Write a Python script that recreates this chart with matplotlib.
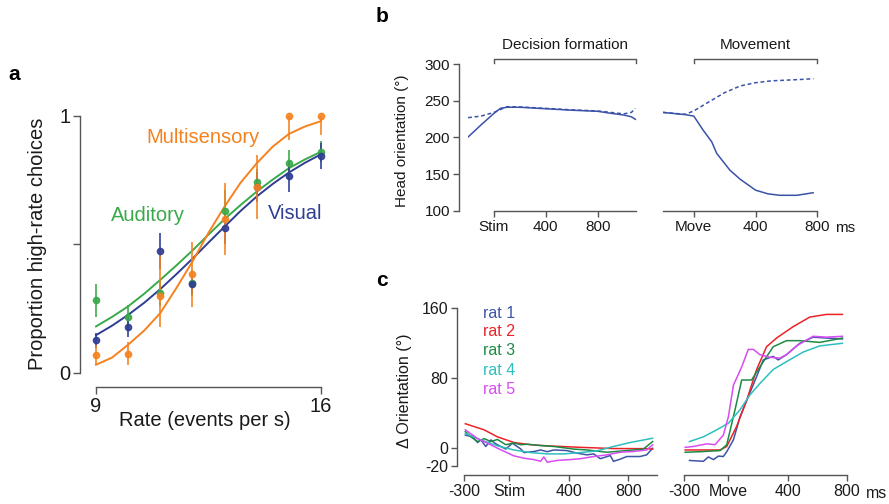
import matplotlib
matplotlib.use("Agg")
import matplotlib.pyplot as plt
import matplotlib.transforms as mtransforms

plt.rcParams['font.family'] = ['Liberation Sans', 'DejaVu Sans']
plt.rcParams['axes.unicode_minus'] = False

# ---------------- Panel a data ----------------
rate = [9, 10, 11, 12, 13, 14, 15, 16]
aud_pts = [0.282, 0.216, 0.31, 0.35, 0.63, 0.744, 0.816, 0.86]
aud_err = [0.065, 0.05, 0.05, 0.05, 0.08, 0.05, 0.05, 0.04]
vis_pts = [0.127, 0.178, 0.476, 0.347, 0.563, 0.723, 0.765, 0.842]
vis_err = [0.03, 0.04, 0.07, 0.04, 0.06, 0.06, 0.06, 0.05]
multi_pts = [0.07, 0.075, 0.298, 0.383, 0.599, 0.723, 1.0, 1.0]
multi_err_lo = [0.04, 0.045, 0.12, 0.126, 0.14, 0.126, 0.094, 0.075]
multi_err_hi = [0.04, 0.045, 0.18, 0.126, 0.14, 0.126, 0.0, 0.0]

fit_x = [9, 9.5, 10, 10.5, 11, 11.5, 12, 12.5, 13, 13.5, 14, 14.5, 15, 15.5, 16]
aud_fit = [0.181, 0.218, 0.259, 0.308, 0.362, 0.418, 0.476, 0.538, 0.598, 0.653,
           0.705, 0.752, 0.796, 0.83, 0.86]
vis_fit = [0.147, 0.184, 0.226, 0.273, 0.326, 0.384, 0.444, 0.507, 0.569, 0.63,
           0.686, 0.735, 0.779, 0.817, 0.85]
multi_fit = [0.032, 0.06, 0.11, 0.165, 0.233, 0.33, 0.433, 0.545, 0.647, 0.74,
             0.815, 0.88, 0.929, 0.958, 0.979]

# ---------------- Panel b data ----------------
b_stim_t = [-200, -100, 0, 50, 100, 200, 400, 600, 800, 900, 1000, 1060, 1090]
b_stim_solid = [200.5, 217, 232.8, 239.6, 241, 241, 239, 237, 235.5, 232.8, 230.5, 228, 224.6]
b_stim_dash = [226.8, 229, 234, 238, 241.8, 241.5, 239.5, 237.5, 236, 234, 232, 234, 239.6]

b_move_t = [-200, -56, 0, 60, 116, 149, 235, 300, 400, 480, 558, 668, 773]
b_move_solid = [234, 231, 229, 210, 194, 178, 155, 143, 128, 123, 121, 121, 124.5]
b_move_dash_t = [-200, -56, 0, 100, 200, 300, 400, 500, 600, 700, 775]
b_move_dash = [234, 231.4, 236, 248.6, 261, 270, 274.5, 277, 278, 279, 280]

# ---------------- Panel c data ----------------
rat_names = ['rat 1', 'rat 2', 'rat 3', 'rat 4', 'rat 5']
rat_colors = ['#3d55a6', '#ec2228', '#1d8a45', '#2ebfbf', '#d84cf2']

c_stim = {
    'rat 1': ([-293, -244, -211, -189, -156, -122, -89, -22, 22, 78, 100, 167, 211, 256, 300,
               389, 456, 522, 567, 611, 678, 700, 744, 789, 878, 922, 962],
              [15, 13, 6.5, 9.5, 2, 9.5, 5, -1, 5.7, -0.8, -5, -3.8, -2, -4, -2,
               -2.7, -5.7, -7.6, -6.5, -12, -8.4, -15, -12.6, -9.5, -9.5, -7.6, 0]),
    'rat 2': ([-293, -167, -78, 33, 144, 256, 478, 700, 922, 962],
              [28, 21, 13, 6.5, 4, 2.7, 1, -0.4, -0.5, -1]),
    'rat 3': ([-293, -256, -211, -167, -122, -78, -22, 33, 78, 122, 211, 300, 433, 522,
               656, 789, 900, 962],
              [19, 13, 7.6, 11, 7.6, 10, 4, 6, 4, 4.6, 3, 2, -1, -2, -4.6, -2.7, -1, 7.6]),
    'rat 4': ([-293, -189, -78, 33, 144, 256, 367, 478, 589, 700, 811, 962],
              [17, 9.5, 2.7, -2, -5, -6.5, -6.5, -5, -3, 2, 6.5, 11.4]),
    'rat 5': ([-293, -211, -144, -78, 33, 100, 167, 211, 233, 256, 322, 411, 478, 567,
               656, 744, 833, 922, 962],
              [21, 11, 5.7, 0, -8.8, -11.4, -13, -15, -10, -16, -14, -13, -12, -9.5,
               -7.6, -4.6, -3.8, -2, 3.8]),
}

c_move = {
    'rat 1': ([-263, -169, -135, -101, -67, -34, -11, 34, 79, 135, 191, 236, 303, 337, 393,
               483, 573, 663, 771],
              [-14, -15, -10, -13, -9, -9.5, -4, 9.5, 36, 59, 82, 101, 105, 101, 107,
               120, 127, 126, 125]),
    'rat 2': ([-292, -56, -11, 56, 124, 191, 258, 326, 438, 551, 663, 771],
              [-2, -2, 2, 25, 55, 90, 116, 126, 139, 150, 153, 153]),
    'rat 3': ([-292, -191, -56, -11, 45, 90, 157, 213, 303, 393, 483, 618, 771],
              [-4.6, -4, -2.7, 4, 44, 78, 78, 93, 116, 123, 123, 121, 126]),
    'rat 4': ([-263, -169, -79, 0, 79, 146, 213, 303, 393, 506, 618, 771],
              [7.6, 13, 21, 28.6, 44, 61, 74, 90, 99, 110, 117, 120]),
    'rat 5': ([-292, -236, -146, -90, -34, 0, 34, 90, 135, 169, 213, 281, 348, 393, 461,
               573, 663, 771],
              [1, 2, 5, 4, 15, 36, 72, 93, 113, 113, 107, 104, 103, 107, 117, 128, 127, 128]),
}

ORANGE = '#f5821f'
GREEN = '#39a949'
BLUE = '#2f3d93'
BBLUE = '#3a52a8'
SPINE = '#555555'
TXT = '#1a1a1a'

W, H = 889, 504
fig = plt.figure(figsize=(W / 100, H / 100), dpi=100)


def axrect(x0, x1, ytop, ybot):
    return [x0 / W, 1 - ybot / H, (x1 - x0) / W, (ybot - ytop) / H]


def style(ax, fs):
    for s in ['top', 'right']:
        ax.spines[s].set_visible(False)
    for s in ['left', 'bottom']:
        ax.spines[s].set_color(SPINE)
        ax.spines[s].set_linewidth(1.0)
    ax.tick_params(colors=SPINE, labelcolor=TXT, labelsize=fs, length=4, width=1.0, pad=2.5)
    ax.patch.set_alpha(0)


# ---------------- Panel a ----------------
axa = fig.add_axes(axrect(96, 321, 115.7, 373))
style(axa, 14.5)
axa.set_xlim(9, 16)
axa.set_ylim(0, 1)
axa.spines['left'].set_position(('outward', 11.5))
axa.spines['bottom'].set_position(('outward', 10))
axa.spines['left'].set_bounds(0, 1)
axa.spines['bottom'].set_bounds(9, 16)
axa.set_xticks([9, 16])
axa.set_xticklabels(['9', '16'])
axa.set_yticks([0, 0.5, 1])
axa.set_yticklabels(['0', '', '1'])
axa.tick_params(length=5, pad=2)

for pts, lo, hi, fit, col in [
        (aud_pts, aud_err, aud_err, aud_fit, GREEN),
        (vis_pts, vis_err, vis_err, vis_fit, BLUE),
        (multi_pts, multi_err_lo, multi_err_hi, multi_fit, ORANGE)]:
    axa.plot(fit_x, fit, color=col, lw=1.4, clip_on=False, zorder=3)
    axa.errorbar(rate, pts, yerr=[lo, hi], fmt='o', color=col, ms=4.5, elinewidth=1.3,
                 capsize=0, clip_on=False, zorder=4, alpha=0.9)

axa.text(12.33, 0.917, 'Multisensory', color=ORANGE, fontsize=14.5, ha='center', va='center')
axa.text(10.62, 0.614, 'Auditory', color=GREEN, fontsize=14.5, ha='center', va='center')
axa.text(15.19, 0.618, 'Visual', color=BLUE, fontsize=14.5, ha='center', va='center')

fig.text(38 / W, 1 - 244 / H, 'Proportion high-rate choices', rotation=90, fontsize=14.5,
         ha='center', va='center', color=TXT)
fig.text(205 / W, 1 - 421 / H, 'Rate (events per s)', fontsize=14.5, ha='center',
         va='center', color=TXT)

# ---------------- Panel b ----------------
BFS = 11
axb1 = fig.add_axes(axrect(468.1, 636.6, 64, 210.7))
style(axb1, BFS)
axb1.set_xlim(-200, 1100)
axb1.set_ylim(100, 300)
axb1.spines['left'].set_position(('outward', 6.5))
axb1.spines['bottom'].set_bounds(0, 1095)
axb1.set_xticks([0, 400, 800])
axb1.set_xticklabels(['Stim', '400', '800'])
axb1.set_yticks([100, 150, 200, 250, 300])
axb1.plot(b_stim_t, b_stim_solid, color=BBLUE, lw=1.1)
axb1.plot(b_stim_t, b_stim_dash, color=BBLUE, lw=1.1, ls=(0, (2.5, 1.8)))

axb2 = fig.add_axes(axrect(662.9, 817.3, 64, 210.7))
style(axb2, BFS)
axb2.set_xlim(-200, 800)
axb2.set_ylim(100, 300)
axb2.spines['left'].set_visible(False)
axb2.set_yticks([])
axb2.spines['bottom'].set_bounds(-200, 800)
axb2.set_xticks([0, 400, 800])
axb2.set_xticklabels(['Move', '400', '800'])
axb2.plot(b_move_t, b_move_solid, color=BBLUE, lw=1.1)
axb2.plot(b_move_dash_t, b_move_dash, color=BBLUE, lw=1.1, ls=(0, (2.5, 1.8)))

for ax, x0, x1, label in [(axb1, 0, 1095, 'Decision formation'), (axb2, 0, 800, 'Movement')]:
    tr = mtransforms.blended_transform_factory(ax.transData, ax.transAxes)
    ax.plot([x0, x0, x1, x1], [1.006, 1.034, 1.034, 1.006], color=SPINE, lw=1.0,
            transform=tr, clip_on=False)
    ax.text((x0 + x1) / 2, 1.13, label, transform=tr, ha='center', va='center',
            fontsize=BFS, color=TXT)

fig.text(402 / W, 1 - 141 / H, 'Head orientation (°)', rotation=90, fontsize=BFS,
         ha='center', va='center', color=TXT)
fig.text(845 / W, 1 - 228 / H, 'ms', fontsize=BFS, ha='center', va='center', color=TXT)

# ---------------- Panel c ----------------
CFS = 11.5
axc1 = fig.add_axes(axrect(464.3, 658.3, 308.3, 465.7))
style(axc1, CFS)
axc1.set_xlim(-300, 1000)
axc1.set_ylim(-20, 160)
axc1.spines['left'].set_position(('outward', 5))
axc1.spines['bottom'].set_position(('outward', 6.7))
axc1.spines['bottom'].set_bounds(-300, 990)
axc1.set_xticks([-300, 0, 400, 800])
axc1.set_xticklabels(['-300', 'Stim', '400', '800'])
axc1.set_yticks([-20, 0, 80, 160])

axc2 = fig.add_axes(axrect(684, 846.7, 308.3, 465.7))
style(axc2, CFS)
axc2.set_xlim(-300, 800)
axc2.set_ylim(-20, 160)
axc2.spines['left'].set_visible(False)
axc2.set_yticks([])
axc2.spines['bottom'].set_position(('outward', 6.7))
axc2.spines['bottom'].set_bounds(-300, 800)
axc2.set_xticks([-300, 0, 400, 800])
axc2.set_xticklabels(['-300', 'Move', '400', '800'])

for name, col in zip(rat_names, rat_colors):
    t, v = c_stim[name]
    axc1.plot(t, v, color=col, lw=1.1, clip_on=False)
    t, v = c_move[name]
    axc2.plot(t, v, color=col, lw=1.1, clip_on=False)

leg_y = [154, 133, 111.4, 89.4, 67.3]
for name, col, yy in zip(rat_names, rat_colors, leg_y):
    axc1.text(-177, yy, name, color=col, fontsize=CFS, ha='left', va='center')

fig.text(405 / W, 1 - 391 / H, 'Δ Orientation (°)', rotation=90, fontsize=CFS,
         ha='center', va='center', color=TXT)
fig.text(877 / W, 1 - 493 / H, 'ms', fontsize=CFS, ha='center', va='center', color=TXT)

# panel letters
fig.text(14 / W, 1 - 75 / H, 'a', fontsize=15, fontweight='bold', ha='center', va='center')
fig.text(382 / W, 1 - 17 / H, 'b', fontsize=15, fontweight='bold', ha='center', va='center')
fig.text(382 / W, 1 - 281 / H, 'c', fontsize=15, fontweight='bold', ha='center', va='center')

fig.savefig('out.png', dpi=100)
